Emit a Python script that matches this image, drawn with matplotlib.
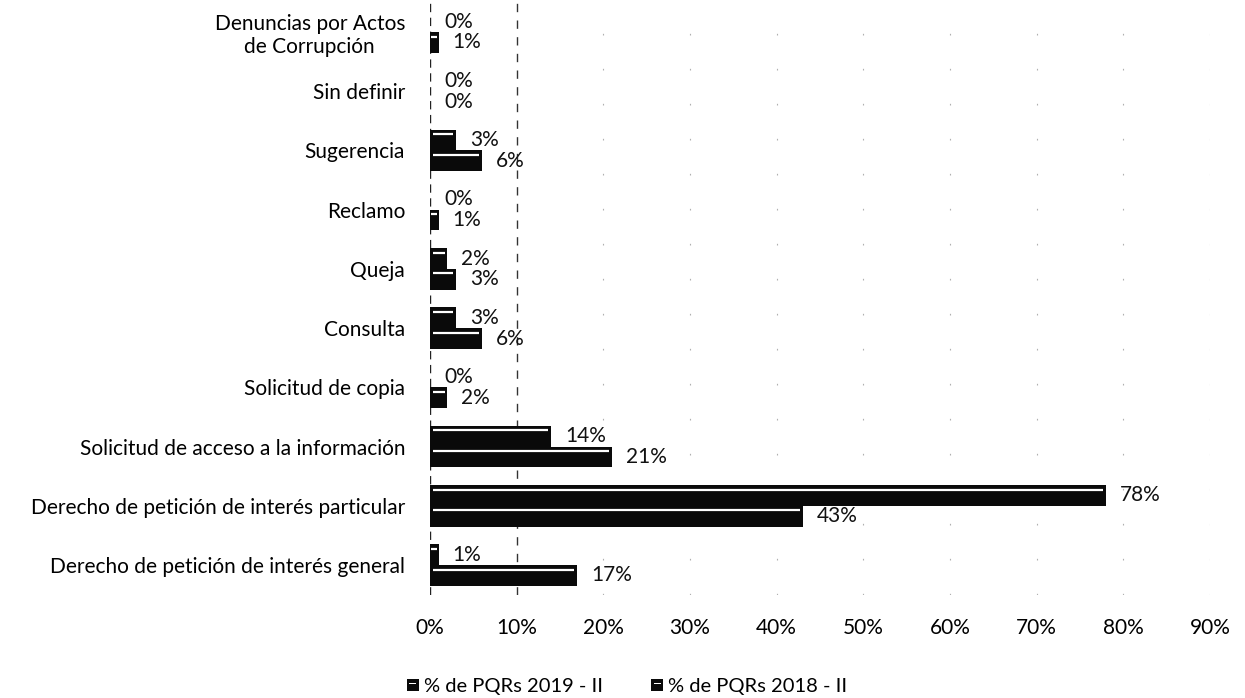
import matplotlib
matplotlib.use("Agg")
import matplotlib.pyplot as plt
import numpy as np
from matplotlib.patches import Rectangle
from matplotlib.legend_handler import HandlerBase

plt.rcParams['font.family'] = ['Lato', 'DejaVu Sans']

categories = [
    "Derecho de petición de interés general",
    "Derecho de petición de interés particular",
    "Solicitud de acceso a la información",
    "Solicitud de copia",
    "Consulta",
    "Queja",
    "Reclamo",
    "Sugerencia",
    "Sin definir",
    "Denuncias por Actos\nde Corrupción",
]
series_2019 = [17, 43, 21, 2, 6, 3, 1, 6, 0, 1]
series_2018 = [1, 78, 14, 0, 3, 2, 0, 3, 0, 0]
series_names = ["% de PQRs 2019 - II", "% de PQRs 2018 - II"]
x_ticks = [0, 10, 20, 30, 40, 50, 60, 70, 80, 90]

FS = 15

fig = plt.figure(figsize=(12.45, 6.98), dpi=100)
ax = fig.add_axes([0.3454, 0.148, 0.6265, 0.8486])

y = np.arange(len(categories))
h = 0.35
bars_low = ax.barh(y - 0.175, series_2019, height=h, color="#0a0a0a", zorder=3)
bars_high = ax.barh(y + 0.175, series_2018, height=h, color="#0a0a0a", zorder=3)


def bevel(bars):
    # thin light streak near the upper edge of each bar
    for p in bars.patches:
        w = p.get_width()
        if w <= 0:
            continue
        top = p.get_y() + p.get_height()
        yy = top - p.get_height() * 0.22
        inset = min(0.35, w * 0.15)
        ax.plot([p.get_x() + inset, p.get_x() + w - inset], [yy, yy],
                color="white", lw=1.6, solid_capstyle="butt", zorder=4)


bevel(bars_low)
bevel(bars_high)

for bars, vals in ((bars_low, series_2019), (bars_high, series_2018)):
    for p, v in zip(bars.patches, vals):
        ax.annotate(f"{v}%", xy=(v, p.get_y() + p.get_height() / 2),
                    xytext=(10, 0), textcoords="offset points",
                    va="center", ha="left", fontsize=FS, color="#111111",
                    zorder=5)

ax.set_xlim(0, 90)
ax.set_ylim(-0.5, len(categories) - 0.5)
ax.set_xticks(x_ticks)
ax.set_xticklabels([f"{t}%" for t in x_ticks])
ax.set_yticks(y)
ax.set_yticklabels(categories)
ax.tick_params(axis="y", length=0, pad=18, labelsize=FS)
ax.tick_params(axis="x", length=0, pad=17, labelsize=FS)
for lbl in ax.get_yticklabels():
    lbl.set_multialignment("center")

for s in ax.spines.values():
    s.set_visible(False)

ax.axvline(0, color="#222222", lw=1.0, ls=(0, (6, 4)), zorder=2)
for t in x_ticks[2:]:
    ax.axvline(t, color="#b0b0b0", lw=0.8, ls=(0, (1.5, 30)), zorder=1)
ax.axvline(10, color="#333333", lw=1.0, ls=(0, (6, 6)), zorder=1)


class BevelSquare(HandlerBase):
    def create_artists(self, legend, orig_handle, xdescent, ydescent,
                       width, height, fontsize, trans):
        s = height * 0.85
        x0 = xdescent + width - s
        y0 = -ydescent + (height - s) / 2
        sq = Rectangle((x0, y0), s, s, facecolor="#0a0a0a",
                       edgecolor="none", transform=trans)
        st = Rectangle((x0 + s * 0.2, y0 + s * 0.6), s * 0.6, s * 0.12,
                       facecolor="white", edgecolor="none", transform=trans)
        return [sq, st]


h1 = Rectangle((0, 0), 1, 1)
h2 = Rectangle((0, 0), 1, 1)
fig.legend([h1, h2], series_names, loc="center", bbox_to_anchor=(0.502, 0.016),
           ncol=2, frameon=False, fontsize=14.5, handlelength=0.8,
           handletextpad=0.25, columnspacing=2.2,
           handler_map={h1: BevelSquare(), h2: BevelSquare()})

fig.savefig("out.png", dpi=100, facecolor="white")
